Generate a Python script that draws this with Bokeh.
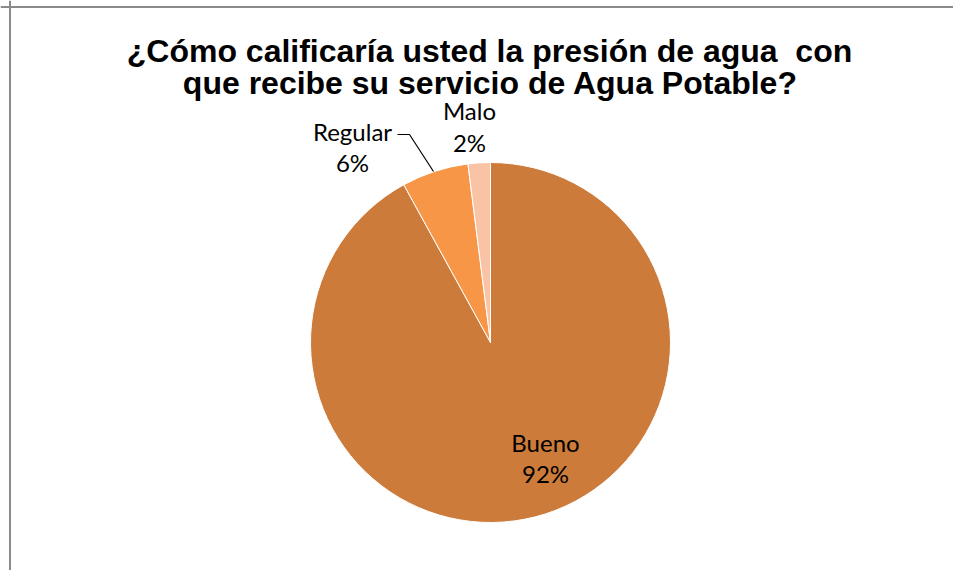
import math
from bokeh.plotting import figure
from bokeh.models import Range1d, Span, ColumnDataSource
from bokeh.core.properties import value
from bokeh.embed import file_html
from bokeh.resources import INLINE

# Data
categories = ["Bueno", "Regular", "Malo"]
percents = [92, 6, 2]
colors = ["#CD7B3A", "#F79646", "#F9C3A5"]
title_lines = ["¿Cómo calificaría usted la presión de agua \u00a0con",
               "que recibe su servicio de Agua Potable?"]

W, H = 953, 570
p = figure(width=W, height=H, output_backend="svg", toolbar_location=None,
           x_range=Range1d(0, W), y_range=Range1d(0, H), min_border=0)
p.axis.visible = False
p.grid.visible = False
p.outline_line_color = None
p.background_fill_color = "white"
p.border_fill_color = "white"

def px(x):
    return x

def py(y):
    return H - y

# Frame (only top and left edges fall inside the picture)
p.add_layout(Span(location=px(9.5), dimension="height", line_color="#8A8A8A", line_width=2))
p.add_layout(Span(location=py(6.5), dimension="width", line_color="#8A8A8A", line_width=2))

# Pie: start at 12 o'clock, clockwise in order Bueno, Regular, Malo
cx, cy, r = px(490), py(342), 180
total = sum(percents)
starts, ends = [], []
acc = 0.0
for v in percents:
    a0 = math.pi / 2 - 2 * math.pi * acc / total
    acc += v
    a1 = math.pi / 2 - 2 * math.pi * acc / total
    starts.append(a0)
    ends.append(a1)

src = ColumnDataSource(dict(cat=categories, start=starts, end=ends, color=colors))
p.wedge(x=cx, y=cy, radius=r, start_angle="start", end_angle="end",
        direction="clock", fill_color="color", line_color="white", line_width=1,
        source=src)

# Labels
label_pos = {"Bueno": (545, 442, 473), "Regular": (352, 131, 162), "Malo": (469, 110, 142)}
for c, v in zip(categories, percents):
    lx, ly1, ly2 = label_pos[c]
    p.text(x=[px(lx), px(lx)], y=[py(ly1), py(ly2)], text=[c, f"{v}%"],
           text_font=value("Lato"), text_font_size="24px", text_color="#000000",
           text_align="center", text_baseline="middle")

# Leader line for Regular
p.line(x=[px(397), px(409), px(433)], y=[py(134), py(134), py(171)],
       line_color="black", line_width=1.2)

# Title
p.text(x=[px(489), px(490)], y=[py(50), py(82)], text=title_lines,
       text_font=value("Liberation Sans"), text_font_size="32px", text_font_style="bold",
       text_color="#000000", text_align="center", text_baseline="middle")

open("out.html", "w").write(file_html(p, INLINE))
